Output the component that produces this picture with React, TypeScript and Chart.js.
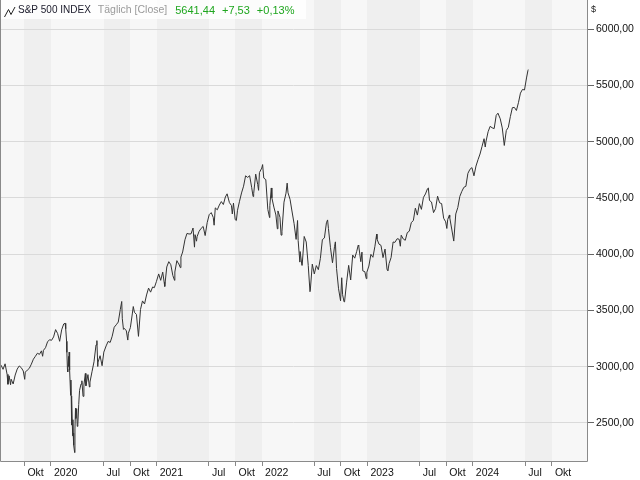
import React, { useEffect, useRef } from "react";
import { Chart, registerables } from "chart.js";

Chart.register(...registerables);

// ---- Data (S&P 500, daily/weekly closes) ----
const DATES: string[] = [
  "2019-07-01","2019-07-03","2019-07-12","2019-07-19","2019-07-26","2019-08-02","2019-08-05","2019-08-09","2019-08-14","2019-08-16","2019-08-23","2019-08-30","2019-09-06","2019-09-13","2019-09-20","2019-09-27","2019-10-02","2019-10-04","2019-10-11","2019-10-18","2019-10-25","2019-11-01","2019-11-08","2019-11-15","2019-11-22","2019-11-29","2019-12-03","2019-12-06","2019-12-13","2019-12-20","2019-12-27",
  "2020-01-03","2020-01-10","2020-01-17","2020-01-24","2020-01-31","2020-02-07","2020-02-14","2020-02-19","2020-02-21","2020-02-24","2020-02-25","2020-02-27","2020-02-28","2020-03-02","2020-03-03","2020-03-04","2020-03-05","2020-03-06","2020-03-09","2020-03-10","2020-03-11","2020-03-12","2020-03-13","2020-03-16","2020-03-17","2020-03-18","2020-03-19","2020-03-20","2020-03-23","2020-03-24","2020-03-26","2020-03-27","2020-03-30","2020-04-01","2020-04-03","2020-04-06","2020-04-09","2020-04-14","2020-04-17","2020-04-21","2020-04-24","2020-04-29","2020-05-01","2020-05-08","2020-05-13","2020-05-15","2020-05-22","2020-05-29","2020-06-05","2020-06-08","2020-06-11","2020-06-12","2020-06-19","2020-06-26","2020-07-02","2020-07-10","2020-07-17","2020-07-24","2020-07-31","2020-08-07","2020-08-14","2020-08-21","2020-08-28","2020-09-02","2020-09-04","2020-09-08","2020-09-11","2020-09-18","2020-09-23","2020-09-25","2020-10-02","2020-10-09","2020-10-12","2020-10-16","2020-10-23","2020-10-30","2020-11-06","2020-11-13","2020-11-20","2020-11-27","2020-12-04","2020-12-11","2020-12-18","2020-12-24","2020-12-31",
  "2021-01-08","2021-01-15","2021-01-22","2021-01-27","2021-01-29","2021-02-05","2021-02-12","2021-02-19","2021-02-26","2021-03-04","2021-03-05","2021-03-12","2021-03-18","2021-03-19","2021-03-24","2021-03-26","2021-04-01","2021-04-09","2021-04-16","2021-04-23","2021-04-30","2021-05-07","2021-05-12","2021-05-14","2021-05-19","2021-05-21","2021-05-28","2021-06-04","2021-06-11","2021-06-18","2021-06-25","2021-07-02","2021-07-09","2021-07-16","2021-07-19","2021-07-23","2021-07-30","2021-08-06","2021-08-13","2021-08-20","2021-08-27","2021-09-02","2021-09-10","2021-09-17","2021-09-20","2021-09-24","2021-09-30","2021-10-04","2021-10-08","2021-10-15","2021-10-22","2021-10-29","2021-11-05","2021-11-12","2021-11-19","2021-11-26","2021-12-01","2021-12-03","2021-12-10","2021-12-17","2021-12-20","2021-12-23","2021-12-31",
  "2022-01-03","2022-01-07","2022-01-14","2022-01-21","2022-01-27","2022-01-28","2022-02-02","2022-02-04","2022-02-11","2022-02-18","2022-02-23","2022-02-25","2022-03-04","2022-03-08","2022-03-11","2022-03-18","2022-03-25","2022-03-29","2022-04-01","2022-04-08","2022-04-14","2022-04-22","2022-04-29","2022-05-04","2022-05-06","2022-05-12","2022-05-13","2022-05-19","2022-05-20","2022-05-27","2022-06-03","2022-06-10","2022-06-16","2022-06-17","2022-06-24","2022-07-01","2022-07-08","2022-07-15","2022-07-22","2022-07-29","2022-08-05","2022-08-12","2022-08-16","2022-08-19","2022-08-26","2022-09-02","2022-09-09","2022-09-12","2022-09-16","2022-09-23","2022-09-30","2022-10-04","2022-10-07","2022-10-12","2022-10-14","2022-10-21","2022-10-28","2022-11-04","2022-11-11","2022-11-18","2022-11-25","2022-11-30","2022-12-02","2022-12-09","2022-12-13","2022-12-16","2022-12-23","2022-12-28","2022-12-30",
  "2023-01-06","2023-01-13","2023-01-20","2023-01-27","2023-02-02","2023-02-03","2023-02-10","2023-02-17","2023-02-24","2023-03-03","2023-03-10","2023-03-13","2023-03-17","2023-03-24","2023-03-31","2023-04-06","2023-04-14","2023-04-21","2023-04-25","2023-04-28","2023-05-05","2023-05-12","2023-05-19","2023-05-26","2023-06-02","2023-06-09","2023-06-16","2023-06-23","2023-06-30","2023-07-07","2023-07-14","2023-07-21","2023-07-28","2023-07-31","2023-08-04","2023-08-11","2023-08-18","2023-08-25","2023-09-01","2023-09-08","2023-09-15","2023-09-22","2023-09-29","2023-10-03","2023-10-06","2023-10-12","2023-10-13","2023-10-20","2023-10-27","2023-11-03","2023-11-10","2023-11-17","2023-11-24","2023-12-01","2023-12-08","2023-12-15","2023-12-22","2023-12-29",
  "2024-01-05","2024-01-12","2024-01-19","2024-01-26","2024-02-02","2024-02-09","2024-02-13","2024-02-16","2024-02-23","2024-03-01","2024-03-08","2024-03-15","2024-03-22","2024-03-28","2024-04-05","2024-04-12","2024-04-19","2024-04-26","2024-05-03","2024-05-10","2024-05-17","2024-05-24","2024-05-31","2024-06-07","2024-06-14","2024-06-21","2024-06-28","2024-07-05","2024-07-10","2024-07-11"
];

const CLOSES: number[] = [
  2964,2996,3014,2977,3026,2932,2844,2919,2840,2889,2847,2926,2979,3007,2992,2962,2888,2952,2970,2986,3023,3067,3093,3120,3110,3141,3093,3146,3169,3221,3240,
  3235,3265,3330,3295,3226,3328,3380,3386,3338,3226,3128,2979,2954,3090,3003,3130,3023,2972,2746,2882,2741,2481,2711,2386,2529,2398,2409,2305,2237,2447,2630,2541,2627,2470,2489,2664,2790,2846,2875,2737,2837,2940,2831,2930,2820,2864,2955,3044,3194,3232,3002,3041,3098,3009,3130,3185,3225,3216,3271,3351,3373,3397,3508,3580,3427,3332,3341,3319,3237,3298,3348,3477,3535,3484,3465,3270,3509,3585,3558,3638,3699,3663,3709,3703,3756,
  3825,3768,3841,3751,3714,3887,3934,3907,3811,3768,3842,3943,3915,3913,3881,3975,4020,4129,4185,4180,4181,4233,4063,4174,4116,4156,4204,4230,4247,4166,4281,4352,4370,4327,4258,4412,4395,4437,4468,4442,4509,4537,4459,4433,4358,4455,4308,4300,4391,4471,4545,4605,4697,4683,4698,4595,4513,4538,4712,4620,4568,4726,4766,
  4797,4677,4663,4398,4326,4432,4589,4501,4419,4349,4226,4385,4329,4170,4204,4463,4543,4632,4546,4488,4393,4272,4132,4300,4123,3930,4024,3901,3901,4158,4109,3901,3667,3675,3912,3825,3899,3863,3962,4130,4145,4280,4305,4228,4058,3924,4067,4110,3873,3693,3586,3791,3640,3577,3583,3752,3901,3771,3993,3965,4026,4080,4072,3934,4019,3852,3845,3783,3840,
  3895,3999,3973,4071,4179,4136,4090,4079,3970,4046,3862,3855,3917,3971,4109,4105,4138,4133,4071,4169,4136,4124,4192,4205,4282,4299,4410,4348,4450,4399,4505,4536,4582,4589,4478,4464,4370,4406,4516,4457,4450,4320,4288,4229,4308,4349,4327,4224,4117,4358,4415,4514,4559,4595,4604,4719,4755,4770,
  4697,4784,4840,4891,4959,5027,4953,5006,5089,5137,5124,5117,5234,5254,5204,5123,4967,5100,5128,5223,5303,5305,5278,5347,5432,5465,5460,5567,5634,5641.44
];

const X_TICK_DATES: string[] = [
  "2019-10-01","2020-01-01","2020-07-01","2020-10-01","2021-01-01","2021-07-01","2021-10-01",
  "2022-01-01","2022-07-01","2022-10-01","2023-01-01","2023-07-01","2023-10-01","2024-01-01",
  "2024-07-01","2024-10-01"
];
const X_TICK_LABELS: string[] = [
  "Okt","2020","Jul","Okt","2021","Jul","Okt","2022","Jul","Okt","2023","Jul","Okt","2024","Jul","Okt"
];
const Y_TICKS: number[] = [2500, 3000, 3500, 4000, 4500, 5000, 5500, 6000];

const LEGEND_NAME = "S&P 500 INDEX";
const LEGEND_MODE = "Täglich [Close]";
const LEGEND_VALUES: string[] = ["5641,44", "+7,53", "+0,13%"];
const Y_UNIT = "$";

// ---- helpers ----
const EPOCH = Date.parse("2020-01-01");
const toDay = (s: string) => (Date.parse(s) - EPOCH) / 86400000;

const X_MIN = -176.6;
const X_MAX = 1856.5;
const Y_MIN = 2162;
const Y_MAX = 6260;

const FONT_FAMILY = '"Liberation Sans", Arial, sans-serif';

const bandsPlugin = {
  id: "bands",
  beforeDraw(chart: any) {
    const { ctx, chartArea, scales } = chart;
    const xs = scales.x;
    const bounds = [X_MIN, ...X_TICK_DATES.map(toDay), X_MAX];
    ctx.save();
    for (let i = 0; i < bounds.length - 1; i++) {
      const x0 = Math.round(xs.getPixelForValue(bounds[i]));
      const x1 = Math.round(xs.getPixelForValue(bounds[i + 1]));
      ctx.fillStyle = i % 2 === 0 ? "#f7f7f7" : "#efefef";
      ctx.fillRect(x0, chartArea.top, x1 - x0, chartArea.bottom - chartArea.top);
    }
    ctx.restore();
  },
};

const framePlugin = {
  id: "frame",
  afterDraw(chart: any) {
    const { ctx, chartArea } = chart;
    const { left, right, top, bottom } = chartArea;
    ctx.save();
    // frame
    ctx.strokeStyle = "#8a8a8a";
    ctx.lineWidth = 1;
    ctx.beginPath();
    ctx.moveTo(left + 0.5, top);
    ctx.lineTo(left + 0.5, bottom + 0.5);
    ctx.lineTo(right + 0.5, bottom + 0.5);
    ctx.lineTo(right + 0.5, top);
    ctx.stroke();

    // legend box
    ctx.fillStyle = "rgba(255,255,255,0.8)";
    ctx.fillRect(left + 1, 0, 305, 19);

    // icon
    ctx.strokeStyle = "#222";
    ctx.beginPath();
    ctx.moveTo(4.5, 17);
    ctx.lineTo(8.5, 9.5);
    ctx.lineTo(11, 14.5);
    ctx.lineTo(15, 7);
    ctx.stroke();

    ctx.textBaseline = "middle";
    ctx.textAlign = "left";
    let x = 18;
    const y = 10.5;
    ctx.font = "10px " + FONT_FAMILY;
    ctx.fillStyle = "#1a1a2a";
    ctx.fillText(LEGEND_NAME, x, y);
    x += ctx.measureText(LEGEND_NAME).width + 7;
    ctx.fillStyle = "#9a9a9a";
    ctx.font = "10.5px " + FONT_FAMILY;
    ctx.fillText(LEGEND_MODE, x, y);
    x += ctx.measureText(LEGEND_MODE).width + 8;
    ctx.fillStyle = "#1fa61f";
    ctx.font = "11px " + FONT_FAMILY;
    LEGEND_VALUES.forEach((t) => {
      ctx.fillText(t, x, y);
      x += ctx.measureText(t).width + 7;
    });

    // unit label
    ctx.fillStyle = "#222";
    ctx.font = "9px " + FONT_FAMILY;
    ctx.fillText(Y_UNIT, right + 4, 10);
    ctx.restore();
  },
};

export default function App() {
  const canvasRef = useRef<HTMLCanvasElement | null>(null);

  useEffect(() => {
    const canvas = canvasRef.current;
    if (!canvas) return;
    const points = DATES.map((d, i) => ({ x: toDay(d), y: CLOSES[i] }));
    const xTickDays = X_TICK_DATES.map(toDay);

    const chart = new Chart(canvas, {
      type: "line",
      data: {
        datasets: [
          {
            label: LEGEND_NAME,
            data: points,
            borderColor: "#333333",
            borderWidth: 1,
            pointRadius: 0,
            tension: 0,
            fill: false,
          },
        ],
      },
      options: {
        responsive: false,
        animation: false,
        devicePixelRatio: 1,
        parsing: false as any,
        layout: { padding: 0 },
        plugins: {
          legend: { display: false },
          tooltip: { enabled: false },
          title: { display: false },
        },
        scales: {
          x: {
            type: "linear",
            position: "bottom",
            min: X_MIN,
            max: X_MAX,
            afterBuildTicks: (s: any) => {
              s.ticks = xTickDays.map((v) => ({ value: v }));
            },
            afterFit: (s: any) => {
              s.height = 19;
              s.paddingLeft = 0;
              s.paddingRight = 0;
              s.paddingTop = 0;
              s.paddingBottom = 0;
            },
            ticks: {
              autoSkip: false,
              maxRotation: 0,
              minRotation: 0,
              align: "start",
              labelOffset: 3,
              padding: 1,
              color: "#111",
              font: { family: FONT_FAMILY, size: 10.5 },
              callback: (_v: any, i: number) => X_TICK_LABELS[i],
            },
            grid: {
              drawOnChartArea: false,
              drawTicks: true,
              tickLength: 5,
              tickColor: "#888",
            },
            border: { display: false },
          },
          y: {
            type: "linear",
            position: "right",
            min: Y_MIN,
            max: Y_MAX,
            afterBuildTicks: (s: any) => {
              s.ticks = Y_TICKS.map((v) => ({ value: v }));
            },
            afterFit: (s: any) => {
              s.width = 53;
              s.paddingTop = 0;
              s.paddingBottom = 0;
              s.paddingLeft = 0;
              s.paddingRight = 0;
            },
            ticks: {
              padding: 2,
              color: "#111",
              font: { family: FONT_FAMILY, size: 10.5 },
              callback: (v: any) => Number(v).toFixed(2).replace(".", ","),
            },
            grid: {
              color: "#dadada",
              tickColor: "#666",
              tickLength: 7,
              drawTicks: true,
            },
            border: { display: false },
          },
        },
      },
      plugins: [bandsPlugin, framePlugin],
    });

    return () => chart.destroy();
  }, []);

  return (
    <div style={{ position: "fixed", left: 0, top: 0, width: 640, height: 480, background: "#fff" }}>
      <canvas ref={canvasRef} width={640} height={480} style={{ display: "block", width: 640, height: 480 }} />
    </div>
  );
}
